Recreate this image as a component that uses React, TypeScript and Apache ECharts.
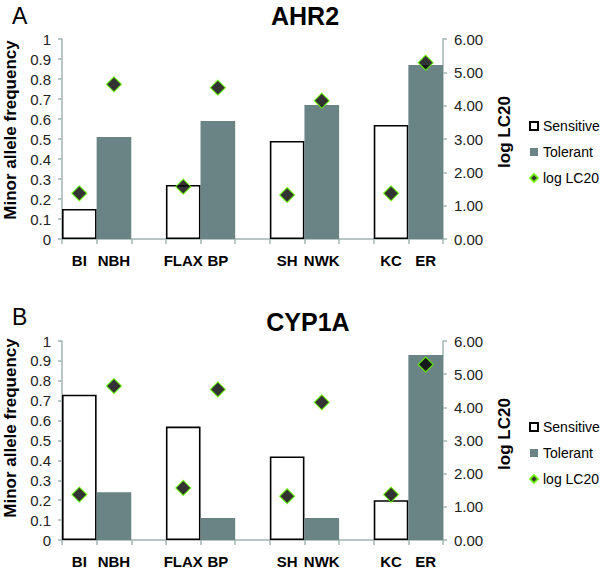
import React, { useEffect, useRef } from "react";
import * as echarts from "echarts";

const sensitivePops = ["BI", "FLAX", "SH", "KC"];
const tolerantPops = ["NBH", "BP", "NWK", "ER"];
const ahr2Sensitive = [0.15, 0.27, 0.49, 0.57];
const ahr2Tolerant = [0.51, 0.59, 0.67, 0.87];
const cyp1aSensitive = [0.73, 0.57, 0.42, 0.2];
const cyp1aTolerant = [0.24, 0.11, 0.11, 0.93];
// log LC20 for sensitive / tolerant populations (same order as above)
const logLC20Sensitive = [1.37, 1.57, 1.32, 1.37];
const logLC20Tolerant = [4.64, 4.54, 4.15, 5.29];
const leftTicks = { min: 0, max: 1, interval: 0.1 };
const rightTicks = { min: 0, max: 6, interval: 1 };

const FONT = "'Liberation Sans', Arial, Helvetica, sans-serif";
const TOL_COLOR = "#6a8384";
const AXIS_COLOR = "#a3b4b4";

// build 11 slots: pairs separated by an empty slot
function slots() {
  const cats: string[] = [];
  sensitivePops.forEach((s, i) => {
    cats.push(s, tolerantPops[i]);
    if (i < sensitivePops.length - 1) cats.push(" ".repeat(i + 1));
  });
  return cats;
}
function sensArr(vals: number[]) {
  const out: any[] = [];
  vals.forEach((v, i) => {
    out.push(v, "-");
    if (i < vals.length - 1) out.push("-");
  });
  return out;
}
function tolArr(vals: number[]) {
  const out: any[] = [];
  vals.forEach((v, i) => {
    out.push("-", v);
    if (i < vals.length - 1) out.push("-");
  });
  return out;
}
function bothArr(a: number[], b: number[]) {
  const out: any[] = [];
  a.forEach((v, i) => {
    out.push(v, b[i]);
    if (i < a.length - 1) out.push("-");
  });
  return out;
}

export default function App() {
  const ref = useRef<HTMLDivElement>(null);
  useEffect(() => {
    document.body.style.margin = "0";
    const chart = echarts.init(ref.current!, null, { renderer: "svg" });
    const cats = slots();
    const grids = [
      { left: 62, width: 381, top: 39, height: 200 },
      { left: 62, width: 381, top: 341, height: 199 },
    ];
    const xAxes = grids.map((_, gi) => ({
      type: "category",
      gridIndex: gi,
      data: cats,
      boundaryGap: true,
      axisLine: { lineStyle: { color: AXIS_COLOR, width: 1.5 } },
      axisTick: { show: true, interval: 0, alignWithLabel: false, length: 5, lineStyle: { color: AXIS_COLOR, width: 1.5 } },
      axisLabel: { interval: 0, margin: 14, fontSize: 15, fontWeight: "bold", color: "#000", fontFamily: FONT },
      splitLine: { show: false },
    }));
    const yAxes: any[] = [];
    grids.forEach((_, gi) => {
      yAxes.push({
        type: "value",
        gridIndex: gi,
        position: "left",
        ...leftTicks,
        axisLine: { show: true, lineStyle: { color: AXIS_COLOR, width: 1.5 } },
        axisTick: { show: true, length: 4, lineStyle: { color: AXIS_COLOR, width: 1.5 } },
        axisLabel: {
          margin: 11,
          fontSize: 15,
          color: "#222",
          fontFamily: FONT,
          formatter: (v: number) => String(Math.round(v * 10) / 10),
        },
        splitLine: { show: false },
      });
      yAxes.push({
        type: "value",
        gridIndex: gi,
        position: "right",
        ...rightTicks,
        axisLine: { show: true, lineStyle: { color: AXIS_COLOR, width: 1.5 } },
        axisTick: { show: true, length: 4, lineStyle: { color: AXIS_COLOR, width: 1.5 } },
        axisLabel: {
          margin: 11,
          fontSize: 15,
          color: "#222",
          fontFamily: FONT,
          formatter: (v: number) => v.toFixed(2),
        },
        splitLine: { show: false },
      });
    });
    const panels = [
      { s: ahr2Sensitive, t: ahr2Tolerant },
      { s: cyp1aSensitive, t: cyp1aTolerant },
    ];
    const series: any[] = [];
    panels.forEach((p, gi) => {
      series.push({
        name: "Sensitive",
        type: "bar",
        xAxisIndex: gi,
        yAxisIndex: gi * 2,
        data: sensArr(p.s),
        barWidth: "100%",
        barGap: "-100%",
        itemStyle: { color: "#ffffff", borderColor: "#000", borderWidth: 1.6 },
      });
      series.push({
        name: "Tolerant",
        type: "bar",
        xAxisIndex: gi,
        yAxisIndex: gi * 2,
        data: tolArr(p.t),
        barWidth: "100%",
        barGap: "-100%",
        itemStyle: { color: TOL_COLOR },
      });
      series.push({
        name: "log LC20",
        type: "scatter",
        xAxisIndex: gi,
        yAxisIndex: gi * 2 + 1,
        data: bothArr(logLC20Sensitive, logLC20Tolerant),
        symbol: "diamond",
        symbolSize: 15,
        itemStyle: { color: "#000", borderColor: "#66ff00", borderWidth: 1.2 },
        z: 5,
      });
    });
    const legendBase = {
      orient: "vertical",
      left: 529,
      padding: 0,
      itemWidth: 8,
      itemHeight: 8,
      itemGap: 10,
      selectedMode: false,
      textStyle: { fontSize: 14, fontFamily: FONT, color: "#000", lineHeight: 16 },
      data: [
        { name: "Sensitive", icon: "rect" },
        { name: "Tolerant", icon: "rect" },
        { name: "log LC20", icon: "diamond" },
      ],
    };
    const txt = (text: string, x: number, y: number, size: number, bold: boolean, align = "left", rot = 0) => ({
      type: "text",
      x,
      y,
      rotation: rot,
      style: {
        text,
        fontSize: size,
        fontWeight: bold ? "bold" : "normal",
        fontFamily: FONT,
        fill: "#000",
        align,
        verticalAlign: "middle",
      },
    });
    chart.setOption({
      animation: false,
      backgroundColor: "#fff",
      grid: grids,
      xAxis: xAxes,
      yAxis: yAxes,
      series,
      legend: [
        { ...legendBase, top: 118 },
        { ...legendBase, top: 419 },
      ],
      graphic: [
        txt("A", 12, 16, 23, false),
        txt("B", 12, 317, 23, false),
        txt("AHR2", 305, 16, 25, true, "center"),
        txt("CYP1A", 308, 322, 25, true, "center"),
        txt("Minor allele frequency", 10, 130, 17, true, "center", Math.PI / 2),
        txt("Minor allele frequency", 10, 428, 17, true, "center", Math.PI / 2),
        txt("log LC20", 504, 132, 17, true, "center", Math.PI / 2),
        txt("log LC20", 504, 434, 17, true, "center", Math.PI / 2),
      ],
    });
    return () => chart.dispose();
  }, []);
  return <div ref={ref} style={{ width: 600, height: 572 }} />;
}
